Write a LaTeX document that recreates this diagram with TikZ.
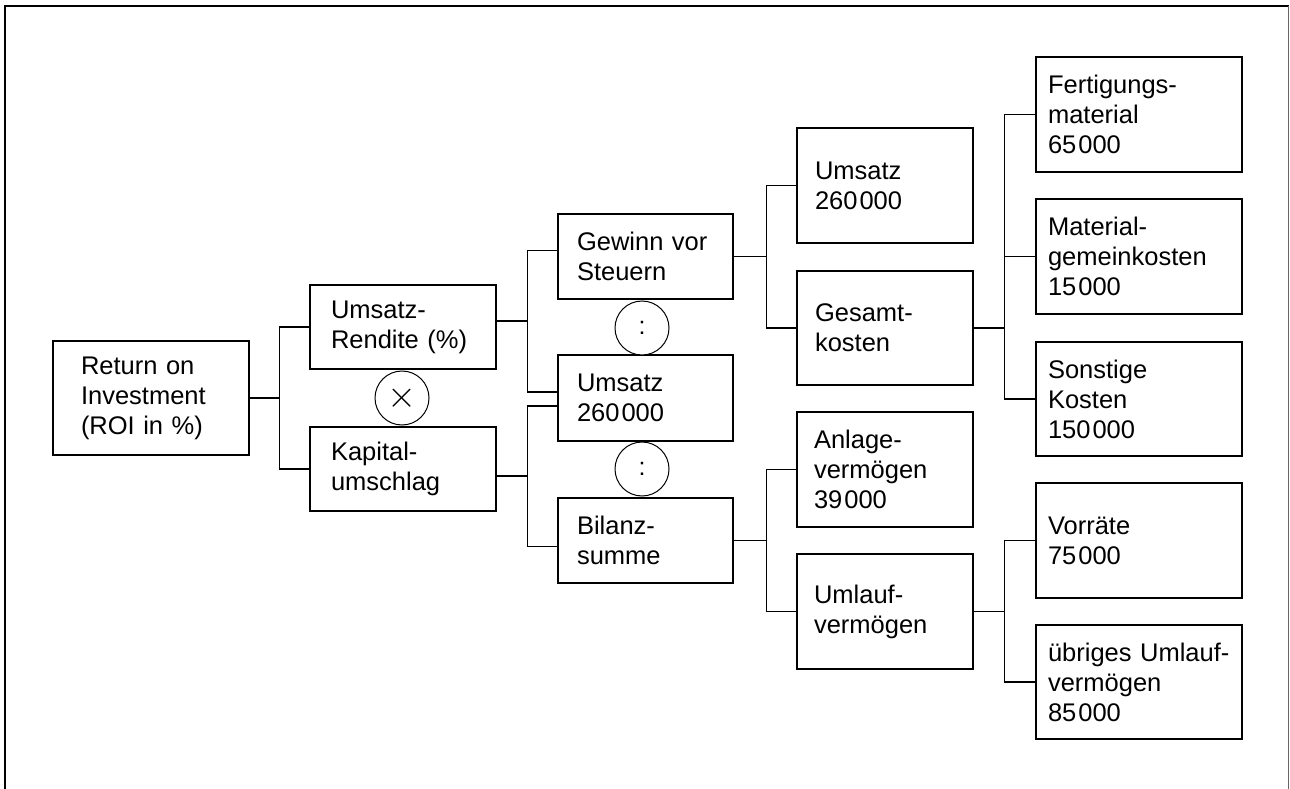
\documentclass[tikz,border=0pt]{standalone}
\usepackage{fontspec}
\usepackage{graphicx}
\setmainfont{Liberation Sans}
\usetikzlibrary{calc}
\newcommand{\grp}{\hspace{2pt}}
\tikzset{
  bx/.style={draw, line width=1.2pt, rectangle, align=left, inner ysep=0pt,
             font=\fontsize{25.5}{30}\selectfont},
  op/.style={draw, circle, line width=1pt, minimum size=54pt, inner sep=0pt,
             fill=white, font=\fontsize{25}{25}\selectfont},
  ln/.style={line width=1.1pt}
}
\begin{document}
\begin{tikzpicture}[x=1pt,y=-1pt]
\useasboundingbox (0,0) rectangle (1290,789);
% open frame
\draw[line width=1.8pt] (4.7,789) -- (4.7,5.7) -- (1288.6,5.7);
\draw[line width=1.2pt, black!60] (1288.6,5.7) -- (1288.6,789);

% column 1
\node[bx, minimum width=196pt, minimum height=114pt, inner xsep=28pt, text width=140pt]
  (roi) at (151,398) {Return on\\Investment\\(ROI in \%)};
% column 2
\node[bx, minimum width=186pt, minimum height=84pt, inner xsep=21pt, text width=144pt]
  (ur) at (403,327) {Umsatz-\\Rendite (\%)};
\node[bx, minimum width=186pt, minimum height=84pt, inner xsep=21pt, text width=144pt]
  (ks) at (403,469) {Kapital-\\umschlag};
% column 3
\node[bx, minimum width=175pt, minimum height=85pt, inner xsep=19pt, text width=137pt]
  (gew) at (645.5,256.5) {Gewinn vor\\Steuern};
\node[bx, minimum width=175pt, minimum height=86pt, inner xsep=19pt, text width=137pt]
  (um2) at (645.5,398) {Umsatz\\260\grp000};
\node[bx, minimum width=175pt, minimum height=85pt, inner xsep=19pt, text width=137pt]
  (bil) at (645.5,540.5) {Bilanz-\\summe};
% column 4
\node[bx, minimum width=176pt, minimum height=115pt, inner xsep=18pt, text width=140pt]
  (um3) at (885,185.5) {Umsatz\\260\grp000};
\node[bx, minimum width=176pt, minimum height=114pt, inner xsep=18pt, text width=140pt]
  (ges) at (885,328) {Gesamt-\\kosten};
\node[bx, minimum width=176pt, minimum height=115pt, inner xsep=17pt, text width=142pt]
  (anl) at (885,469.5) {Anlage-\\vermögen\\39\grp000};
\node[bx, minimum width=176pt, minimum height=115pt, inner xsep=17pt, text width=142pt]
  (uml) at (885,611.5) {Umlauf-\\vermögen};
% column 5
\node[bx, minimum width=206pt, minimum height=115pt, inner xsep=12pt, text width=182pt]
  (fert) at (1139,114.5) {Fertigungs-\\material\\65\grp000};
\node[bx, minimum width=206pt, minimum height=115pt, inner xsep=12pt, text width=182pt]
  (mat) at (1139,256.5) {Material-\\gemeinkosten\\15\grp000};
\node[bx, minimum width=206pt, minimum height=114pt, inner xsep=12pt, text width=182pt]
  (son) at (1139,399) {Sonstige\\Kosten\\150\grp000};
\node[bx, minimum width=206pt, minimum height=115pt, inner xsep=12pt, text width=182pt]
  (vor) at (1139,540.5) {Vorräte\\75\grp000};
\node[bx, minimum width=206pt, minimum height=114pt, inner xsep=12pt, text width=182pt]
  (ueb) at (1139,682) {übriges Umlauf-\\vermögen\\85\grp000};

% operators
\node[op] (mul) at (402,398) {\scalebox{1.5}{$\times$}};
\node[op] (div1) at (642,328) {:};
\node[op] (div2) at (642,469) {:};

% connectors
\draw[ln] (roi.east) -- ++(30,0) coordinate (j1);
\draw[ln] (ur.west) -| (j1) |- (ks.west);

\draw[ln] ([yshift=6pt]ur.east) -- ++(31,0) coordinate (j2);
\draw[ln] ([yshift=6pt]gew.west) -| (j2) |- ([yshift=6pt]um2.west);

\draw[ln] ([yshift=-7pt]ks.east) -- ++(31,0) coordinate (j3);
\draw[ln] ([yshift=-8pt]um2.west) -| (j3) |- ([yshift=-6pt]bil.west);

\draw[ln] (gew.east) -- ++(32.5,0) coordinate (j4);
\draw[ln] (um3.west) -| (j4) |- (ges.west);

\draw[ln] (ges.east) -- ++(31,0) coordinate (j5);
\draw[ln] (fert.west) -| (j5) |- (son.west);
\draw[ln] (mat.west) -- (mat.west -| j5);

\draw[ln] (bil.east) -- ++(32.5,0) coordinate (j6);
\draw[ln] (anl.west) -| (j6) |- (uml.west);

\draw[ln] (uml.east) -- ++(31,0) coordinate (j7);
\draw[ln] (vor.west) -| (j7) |- (ueb.west);
\end{tikzpicture}
\end{document}
